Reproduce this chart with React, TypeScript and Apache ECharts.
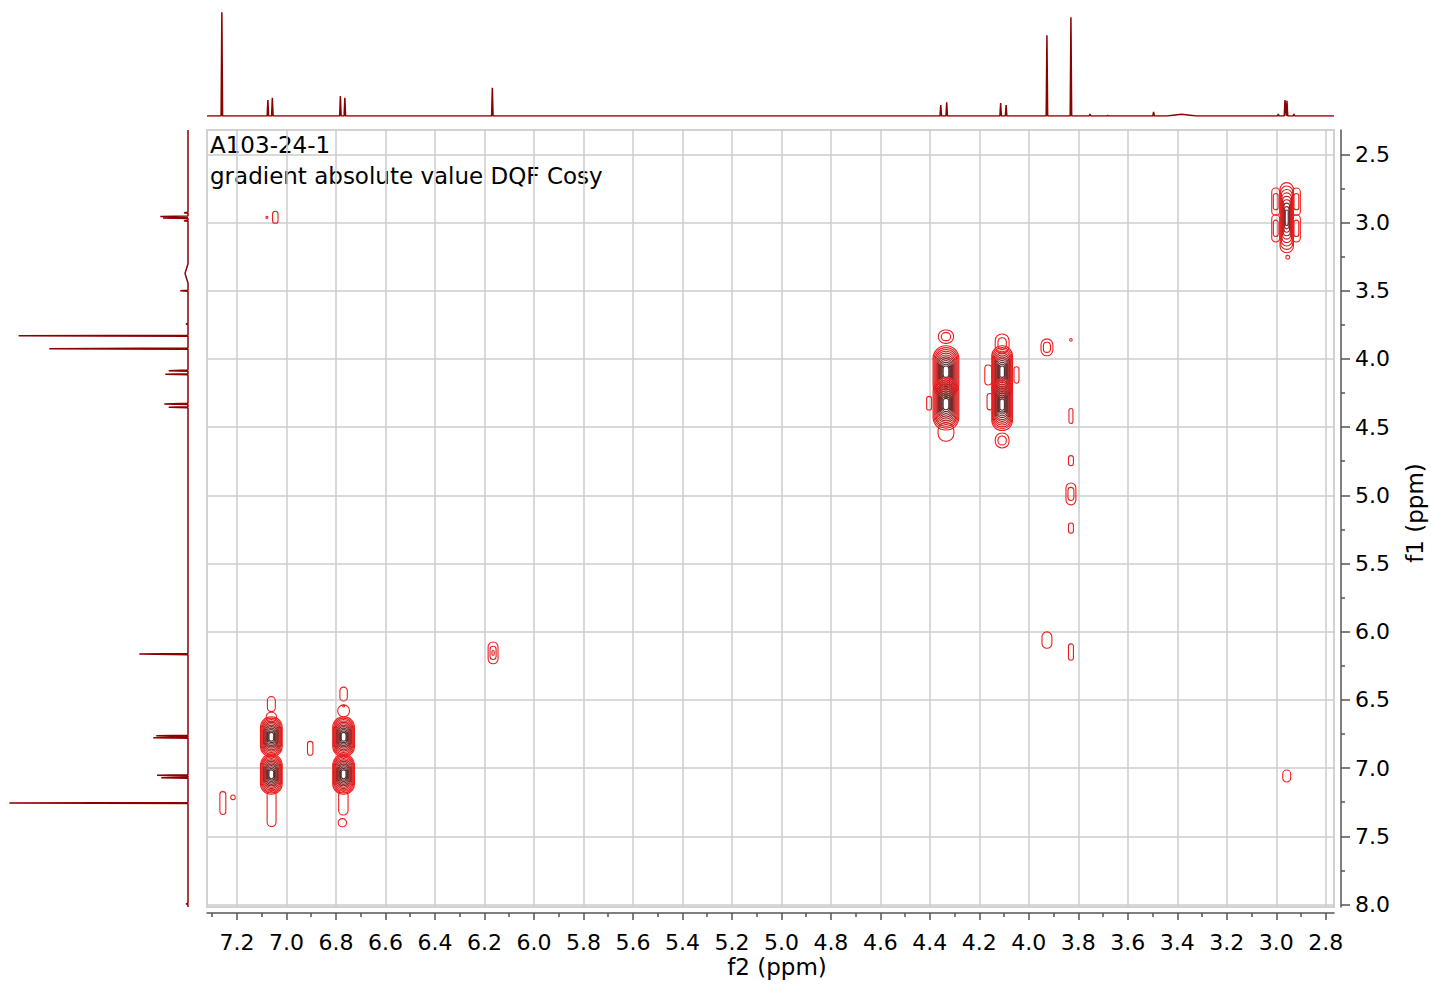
import React, { useEffect, useRef } from "react";
import * as echarts from "echarts";

// ---- axis ranges (ppm) ----
const F2_MIN = 2.767;
const F2_MAX = 7.321;
const F1_MIN = 2.322;
const F1_MAX = 8.018;

// ---- tick values ----
const F2_TICKS = [7.2, 7.0, 6.8, 6.6, 6.4, 6.2, 6.0, 5.8, 5.6, 5.4, 5.2, 5.0, 4.8, 4.6, 4.4, 4.2, 4.0, 3.8, 3.6, 3.4, 3.2, 3.0, 2.8];
const F2_MINOR_TICKS = [7.3, 7.1, 6.9, 6.7, 6.5, 6.3, 6.1, 5.9, 5.7, 5.5, 5.3, 5.1, 4.9, 4.7, 4.5, 4.3, 4.1, 3.9, 3.7, 3.5, 3.3, 3.1, 2.9];
const F1_TICKS = [2.5, 3.0, 3.5, 4.0, 4.5, 5.0, 5.5, 6.0, 6.5, 7.0, 7.5, 8.0];
const F1_MINOR_TICKS = [2.75, 3.25, 3.75, 4.25, 4.75, 5.25, 5.75, 6.25, 6.75, 7.25, 7.75];

// ---- 1D projection along f2 (top): [ppm, intensity, optional half-width ppm] ----
const TOP_PEAKS: number[][] = [
  [7.261, 103.7],
  [7.075, 16.0],
  [7.057, 18.3],
  [6.782, 20.0],
  [6.764, 18.3],
  [6.168, 28.3],
  [4.356, 11.0],
  [4.332, 13.7],
  [4.114, 13.0],
  [4.092, 11.0],
  [3.927, 80.7],
  [3.830, 98.7],
  [3.753, 2.0],
  [3.682, 0.6],
  [3.496, 4.0],
  [3.383, 1.7, 0.06],
  [2.992, 2.0],
  [2.965, 16.0],
  [2.957, 15.3],
  [2.929, 2.0],
];

// ---- 1D projection along f1 (left): [ppm, intensity, optional half-width ppm] ----
const LEFT_PEAKS: number[][] = [
  [2.928, 4.0],
  [2.957, 27.7],
  [2.967, 25.0],
  [2.987, 4.0],
  [3.373, 3.0, 0.07],
  [3.500, 7.7],
  [3.744, 2.0],
  [3.830, 169.4],
  [3.925, 138.7],
  [4.086, 19.3],
  [4.113, 22.7],
  [4.330, 23.7],
  [4.355, 19.3],
  [6.164, 48.7],
  [6.763, 31.7],
  [6.777, 34.7],
  [7.053, 31.0],
  [7.070, 26.7],
  [7.256, 178.7],
  [7.995, 2.0],
];

// ---- 2D cross peaks: [f2 ppm, f1 ppm, half-width f2 ppm, half-height f1 ppm, contour levels] ----
const CROSS_PEAKS: number[][] = [
  // 2.96 diagonal
  [2.958, 2.965, 0.027, 0.257, 9],
  [3.0025, 2.847, 0.016, 0.1, 2],
  [3.0025, 3.043, 0.016, 0.1, 2],
  [2.919, 2.847, 0.016, 0.1, 2],
  [2.919, 3.043, 0.016, 0.1, 2],
  [2.954, 3.255, 0.008, 0.014, 1],
  // 7.26
  [7.257, 7.256, 0.012, 0.084, 1],
  [7.216, 7.214, 0.009, 0.017, 1],
  // 7.06 column
  [7.061, 6.770, 0.044, 0.147, 12],
  [7.061, 7.045, 0.044, 0.147, 12],
  [7.061, 6.531, 0.016, 0.055, 1],
  [7.061, 6.625, 0.021, 0.035, 1],
  [7.060, 7.295, 0.018, 0.134, 1],
  // 6.77 column
  [6.769, 6.770, 0.044, 0.147, 12],
  [6.769, 7.045, 0.044, 0.147, 12],
  [6.769, 6.457, 0.015, 0.051, 1],
  [6.769, 6.545, 0.004, 0.007, 1],
  [6.769, 6.580, 0.024, 0.044, 1],
  [6.770, 7.252, 0.019, 0.092, 1],
  [6.774, 7.400, 0.017, 0.030, 1],
  [6.904, 6.855, 0.011, 0.051, 1],
  // 6.17 diagonal
  [6.165, 6.155, 0.020, 0.080, 3],
  // 4.34 column
  [4.335, 4.094, 0.052, 0.190, 12],
  [4.335, 4.331, 0.052, 0.190, 12],
  [4.335, 3.837, 0.031, 0.049, 2],
  [4.335, 4.536, 0.032, 0.068, 1],
  [4.403, 4.325, 0.010, 0.050, 1],
  // 4.11 column
  [4.108, 4.094, 0.042, 0.190, 12],
  [4.108, 4.335, 0.042, 0.190, 12],
  [4.108, 3.887, 0.028, 0.070, 2],
  [4.108, 4.598, 0.028, 0.055, 2],
  [4.164, 4.118, 0.014, 0.073, 1],
  [4.157, 4.314, 0.012, 0.060, 1],
  [4.050, 4.118, 0.010, 0.060, 1],
  // 3.93 / 3.83 weak peaks
  [3.927, 3.915, 0.024, 0.062, 2],
  [3.830, 3.861, 0.005, 0.010, 1],
  [3.830, 4.419, 0.008, 0.055, 1],
  [3.830, 4.746, 0.010, 0.037, 1],
  [3.830, 4.990, 0.020, 0.080, 2],
  [3.830, 5.240, 0.010, 0.037, 1],
  [3.927, 6.061, 0.020, 0.060, 1],
  [3.830, 6.149, 0.010, 0.060, 1],
  [2.958, 7.058, 0.016, 0.044, 1],
  [7.079, 2.962, 0.004, 0.008, 1],
  [7.045, 2.962, 0.011, 0.044, 1],
];

const RING_COLORS = [
  "#f01d1d", "#ea1c1c", "#e11b1b", "#d41b1b", "#c41d1d", "#b21f1f",
  "#9e2222", "#8a2525", "#782828", "#682a2a", "#5a2b2b", "#4d2c2c",
];

function buildTrace(peaks: number[][], lo: number, hi: number, hw: number): number[][] {
  const sorted = [...peaks].sort((a, b) => a[0] - b[0]);
  const pts: number[][] = [[lo, 0]];
  for (const p of sorted) {
    const d = p.length > 2 ? p[2] : hw;
    pts.push([p[0] - d, 0], [p[0], p[1]], [p[0] + d, 0]);
  }
  pts.push([hi, 0]);
  return pts;
}

const FONT = "DejaVu Sans";
const AXIS_COLOR = "#555555";
const GRID_COLOR = "#cccccc";
const SPEC_COLOR = "#8b0000";

export default function App() {
  const ref = useRef<HTMLDivElement>(null);

  useEffect(() => {
    if (!ref.current) return;
    const chart = echarts.init(ref.current, null, { renderer: "svg" });

    const topTrace = buildTrace(TOP_PEAKS, F2_MIN, F2_MAX, 0.003);
    const leftTrace = buildTrace(LEFT_PEAKS, F1_MIN, F1_MAX, 0.004).map((p) => [p[1], p[0]]);

    const option: any = {
      animation: false,
      backgroundColor: "#ffffff",
      grid: [
        { left: 207, top: 130, width: 1127, height: 777, show: true, borderColor: "#d2d2d2", borderWidth: 2, backgroundColor: "transparent", outerBoundsMode: "none", containLabel: false },
        { left: 207, top: 4, width: 1127, height: 112, outerBoundsMode: "none", containLabel: false },
        { left: 4, top: 130, width: 184, height: 777, outerBoundsMode: "none", containLabel: false },
        { left: 207, top: 912, width: 1127, height: 1, outerBoundsMode: "none", containLabel: false },
        { left: 1340, top: 130, width: 1, height: 777, outerBoundsMode: "none", containLabel: false },
      ],
      xAxis: [
        {
          gridIndex: 0, type: "value", min: F2_MIN, max: F2_MAX, inverse: true, position: "bottom", offset: 6,
          axisLine: { show: true, onZero: false, lineStyle: { color: AXIS_COLOR, width: 1.5 } },
          axisTick: { show: true, customValues: F2_TICKS, length: 7, lineStyle: { color: AXIS_COLOR, width: 1.5 } },
          axisLabel: { show: true, customValues: F2_TICKS, formatter: (v: number) => v.toFixed(1), fontSize: 22, fontFamily: FONT, color: "#000", margin: 18 },
          splitLine: { show: true, lineStyle: { color: GRID_COLOR, width: 1.5 } },
        },
        { gridIndex: 1, type: "value", min: F2_MIN, max: F2_MAX, inverse: true, show: false },
        { gridIndex: 2, type: "value", min: 0, max: 184, inverse: true, show: false },
        {
          gridIndex: 3, type: "value", min: F2_MIN, max: F2_MAX, inverse: true, position: "bottom",
          axisLine: { show: false, onZero: false },
          axisTick: { show: true, customValues: F2_MINOR_TICKS, length: 4, lineStyle: { color: AXIS_COLOR, width: 1.5 } },
          axisLabel: { show: false },
          splitLine: { show: false },
        },
        { gridIndex: 4, type: "value", min: 0, max: 1, show: false },
      ],
      yAxis: [
        {
          gridIndex: 0, type: "value", min: F1_MIN, max: F1_MAX, inverse: true, position: "right", offset: 7,
          axisLine: { show: true, onZero: false, lineStyle: { color: AXIS_COLOR, width: 1.5 } },
          axisTick: { show: true, customValues: F1_TICKS, length: 9, lineStyle: { color: AXIS_COLOR, width: 1.5 } },
          axisLabel: { show: true, customValues: F1_TICKS, formatter: (v: number) => v.toFixed(1), fontSize: 22, fontFamily: FONT, color: "#000", margin: 14 },
          splitLine: { show: true, lineStyle: { color: GRID_COLOR, width: 1.5 } },
        },
        { gridIndex: 1, type: "value", min: 0, max: 112, show: false },
        { gridIndex: 2, type: "value", min: F1_MIN, max: F1_MAX, inverse: true, show: false },
        { gridIndex: 3, type: "value", min: 0, max: 1, show: false },
        {
          gridIndex: 4, type: "value", min: F1_MIN, max: F1_MAX, inverse: true, position: "right",
          axisLine: { show: false, onZero: false },
          axisTick: { show: true, customValues: F1_MINOR_TICKS, length: 4, lineStyle: { color: AXIS_COLOR, width: 1.5 } },
          axisLabel: { show: false },
          splitLine: { show: false },
        },
      ],
      series: [
        {
          type: "custom",
          xAxisIndex: 0,
          yAxisIndex: 0,
          clip: true,
          encode: { x: 0, y: 1 },
          data: CROSS_PEAKS,
          renderItem: (params: any, api: any) => {
            const f2 = api.value(0);
            const f1 = api.value(1);
            const hw = api.value(2);
            const hh = api.value(3);
            const n = api.value(4);
            const c = api.coord([f2, f1]);
            const sz = api.size([hw * 2, hh * 2], [f2, f1]);
            const step = n > 1 ? Math.min(0.4, 0.78 / (n - 1)) : 0;
            const children: any[] = [];
            for (let k = 0; k < n; k++) {
              const s = 1 - k * step;
              const a = (sz[0] / 2) * s;
              const b = (sz[1] / 2) * s;
              children.push({
                type: "rect",
                shape: { x: c[0] - a, y: c[1] - b, width: 2 * a, height: 2 * b, r: Math.min(a, b) * 0.98 },
                style: { fill: "none", stroke: RING_COLORS[Math.min(k, RING_COLORS.length - 1)], lineWidth: 1.1 },
              });
            }
            return { type: "group", children };
          },
        },
        {
          type: "line",
          xAxisIndex: 1,
          yAxisIndex: 1,
          data: topTrace,
          symbol: "none",
          lineStyle: { color: SPEC_COLOR, width: 1.5 },
        },
        {
          type: "line",
          xAxisIndex: 2,
          yAxisIndex: 2,
          data: leftTrace,
          symbol: "none",
          lineStyle: { color: SPEC_COLOR, width: 1.5 },
        },
      ],
      graphic: [
        { type: "text", x: 210, y: 145, style: { text: "A103-24-1", fontSize: 23, fontFamily: FONT, fill: "#000", align: "left", verticalAlign: "middle" } },
        { type: "text", x: 210, y: 175.5, style: { text: "gradient absolute value DQF Cosy", fontSize: 23, fontFamily: FONT, fill: "#000", align: "left", verticalAlign: "middle" } },
        { type: "text", x: 777, y: 967, style: { text: "f2 (ppm)", fontSize: 23, fontFamily: FONT, fill: "#000", align: "center", verticalAlign: "middle" } },
        { type: "text", x: 1415, y: 513, rotation: Math.PI / 2, style: { text: "f1 (ppm)", fontSize: 23, fontFamily: FONT, fill: "#000", align: "center", verticalAlign: "middle" } },
      ],
    };

    chart.setOption(option);
    return () => chart.dispose();
  }, []);

  return (
    <div
      ref={ref}
      style={{ position: "absolute", left: 0, top: 0, width: 1431, height: 984, background: "#fff" }}
    />
  );
}
